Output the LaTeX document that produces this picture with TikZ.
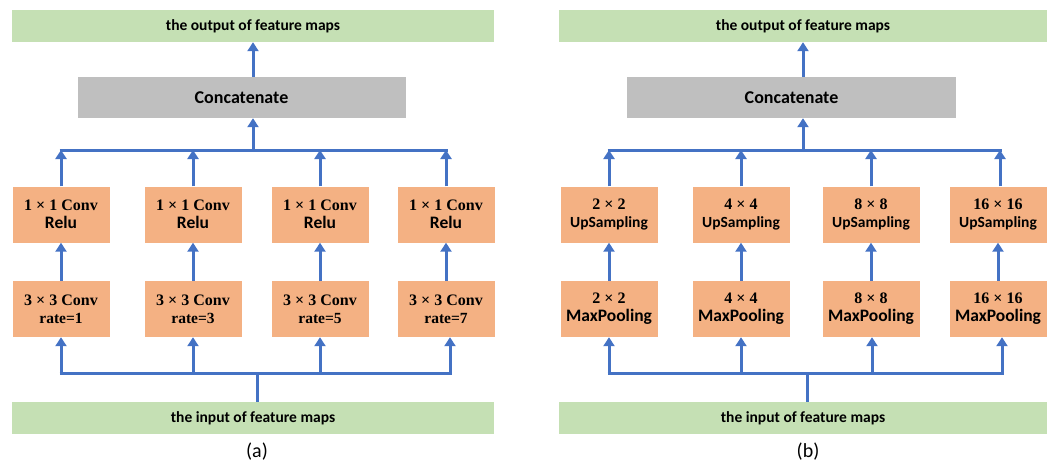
\documentclass[tikz,border=0pt]{standalone}
\usepackage{fontspec}
\newfontfamily\carlfont{Carlito}
\newfontfamily\serfont{Liberation Serif}
\usetikzlibrary{arrows.meta}
\definecolor{fgreen}{HTML}{C5E0B4}
\definecolor{forange}{HTML}{F4B183}
\definecolor{fgray}{HTML}{BFBFBF}
\definecolor{fblue}{HTML}{4472C4}
\tikzset{
  io/.style={fill=fgreen, minimum width=482pt, minimum height=32pt, inner sep=0pt, font=\carlfont\bfseries\fontsize{15.5}{18}\selectfont},
  catbox/.style={fill=fgray, minimum width=328pt, minimum height=41pt, inner sep=0pt, font=\carlfont\bfseries\fontsize{18}{20}\selectfont},
  opbox/.style={fill=forange, minimum width=97pt, minimum height=56pt, inner sep=0pt, align=center, font=\fontsize{15}{18}\selectfont},
  arr/.style={draw=fblue, line width=3pt, -{Triangle[width=11pt,length=9pt]}},
  bus/.style={draw=fblue, line width=3pt},
  captext/.style={font=\carlfont\fontsize{20}{22}\selectfont}
}
\newcommand{\mtline}[1]{{\serfont\bfseries\fontsize{16}{18}\selectfont #1}}
\newcommand{\clline}[1]{{\carlfont\bfseries\fontsize{17.5}{18}\selectfont #1}}
\newcommand{\upline}[1]{{\carlfont\bfseries\fontsize{15.5}{18}\selectfont #1}}
\newcommand{\rtline}[1]{{\serfont\bfseries\fontsize{15.5}{18}\selectfont #1}}
\begin{document}
\begin{tikzpicture}[x=1pt,y=-1pt]
\useasboundingbox (0,0) rectangle (1054,467);
% ---------- panel (a) ----------
\node[io] (outa) at (253,26) {the output of feature maps};
\node[catbox] (cata) at (241.5,97.5) {Concatenate};
\node[io] (ina) at (253,418) {the input of feature maps};
\node[opbox] (ra1) at (61,214.5) {\mtline{1 × 1 Conv}\\\clline{Relu}};
\node[opbox] (ra2) at (193,214.5) {\mtline{1 × 1 Conv}\\\clline{Relu}};
\node[opbox] (ra3) at (320,214.5) {\mtline{1 × 1 Conv}\\\clline{Relu}};
\node[opbox] (ra4) at (446,214.5) {\mtline{1 × 1 Conv}\\\clline{Relu}};
\node[opbox] (ca1) at (61,309) {\mtline{3 × 3 Conv}\\\rtline{rate=1}};
\node[opbox] (ca2) at (193,309) {\mtline{3 × 3 Conv}\\\rtline{rate=3}};
\node[opbox] (ca3) at (320,309) {\mtline{3 × 3 Conv}\\\rtline{rate=5}};
\node[opbox] (ca4) at (446,309) {\mtline{3 × 3 Conv}\\\rtline{rate=7}};
\coordinate (tba1) at (61,150);
\coordinate (tba2) at (193,150);
\coordinate (tba3) at (320,150);
\coordinate (tba4) at (446,150);
\coordinate (bba1) at (61,373);
\coordinate (bba2) at (193,373);
\coordinate (bba3) at (320,373);
\coordinate (bba4) at (450,373);
\coordinate (tbma) at (253,150);
\coordinate (bbma) at (257,373);
\draw[bus] ([xshift=-1.5pt]tba1) -- ([xshift=1.5pt]tba4);
\draw[bus] ([xshift=-1.5pt]bba1) -- ([xshift=1.5pt]bba4);
\draw[arr] (ra1.north) -- (tba1);
\draw[arr] (ra2.north) -- (tba2);
\draw[arr] (ra3.north) -- (tba3);
\draw[arr] (ra4.north) -- (tba4);
\draw[arr] (ca1.north) -- (ra1.south);
\draw[arr] (ca2.north) -- (ra2.south);
\draw[arr] (ca3.north) -- (ra3.south);
\draw[arr] (ca4.north) -- (ra4.south);
\draw[arr] (bba1) -- (ca1.south);
\draw[arr] (bba2) -- (ca2.south);
\draw[arr] (bba3) -- (ca3.south);
\draw[arr] (bba4) -- (bba4 |- ca4.south);
\draw[arr] (tbma) -- (tbma |- cata.south);
\draw[arr] (tbma |- cata.north) -- (tbma |- outa.south);
\draw[bus] (bbma |- ina.north) -- (bbma);
\node[captext] (lba) at (257,452) {(a)};
% ---------- panel (b) ----------
\node[io, minimum width=488pt] (outb) at (803,26) {the output of feature maps};
\node[catbox, minimum width=329pt] (catb) at (791.5,97.5) {Concatenate};
\node[io, minimum width=488pt] (inb) at (803,418) {the input of feature maps};
\node[opbox] (ub1) at (609,214.5) {\mtline{2 × 2}\\\upline{UpSampling}};
\node[opbox] (ub2) at (741,214.5) {\mtline{4 × 4}\\\upline{UpSampling}};
\node[opbox] (ub3) at (871,214.5) {\mtline{8 × 8}\\\upline{UpSampling}};
\node[opbox] (ub4) at (998,214.5) {\mtline{16 × 16}\\\upline{UpSampling}};
\node[opbox] (mb1) at (609,309) {\mtline{2 × 2}\\\clline{MaxPooling}};
\node[opbox] (mb2) at (741,309) {\mtline{4 × 4}\\\clline{MaxPooling}};
\node[opbox] (mb3) at (871,309) {\mtline{8 × 8}\\\clline{MaxPooling}};
\node[opbox] (mb4) at (998,309) {\mtline{16 × 16}\\\clline{MaxPooling}};
\coordinate (tbb1) at (609,150);
\coordinate (tbb2) at (741,150);
\coordinate (tbb3) at (871,150);
\coordinate (tbb4) at (1000,150);
\coordinate (bbb1) at (609,373);
\coordinate (bbb2) at (741,373);
\coordinate (bbb3) at (872,373);
\coordinate (bbb4) at (1002,373);
\coordinate (tbmb) at (803,150);
\coordinate (bbmb) at (807,373);
\draw[bus] ([xshift=-1.5pt]tbb1) -- ([xshift=1.5pt]tbb4);
\draw[bus] ([xshift=-1.5pt]bbb1) -- ([xshift=1.5pt]bbb4);
\draw[arr] (tbb4 |- ub4.north) -- (tbb4);
\draw[arr] (ub1.north) -- (tbb1);
\draw[arr] (ub2.north) -- (tbb2);
\draw[arr] (ub3.north) -- (tbb3);
\draw[arr] (mb1.north) -- (ub1.south);
\draw[arr] (mb2.north) -- (ub2.south);
\draw[arr] (mb3.north) -- (ub3.south);
\draw[arr] (mb4.north) -- (ub4.south);
\draw[arr] (bbb1) -- (mb1.south);
\draw[arr] (bbb2) -- (mb2.south);
\draw[arr] (bbb3) -- (bbb3 |- mb3.south);
\draw[arr] (bbb4) -- (bbb4 |- mb4.south);
\draw[arr] (tbmb) -- (tbmb |- catb.south);
\draw[arr] (tbmb |- catb.north) -- (tbmb |- outb.south);
\draw[bus] (bbmb |- inb.north) -- (bbmb);
\node[captext] (lbb) at (808,452) {(b)};
\end{tikzpicture}
\end{document}
